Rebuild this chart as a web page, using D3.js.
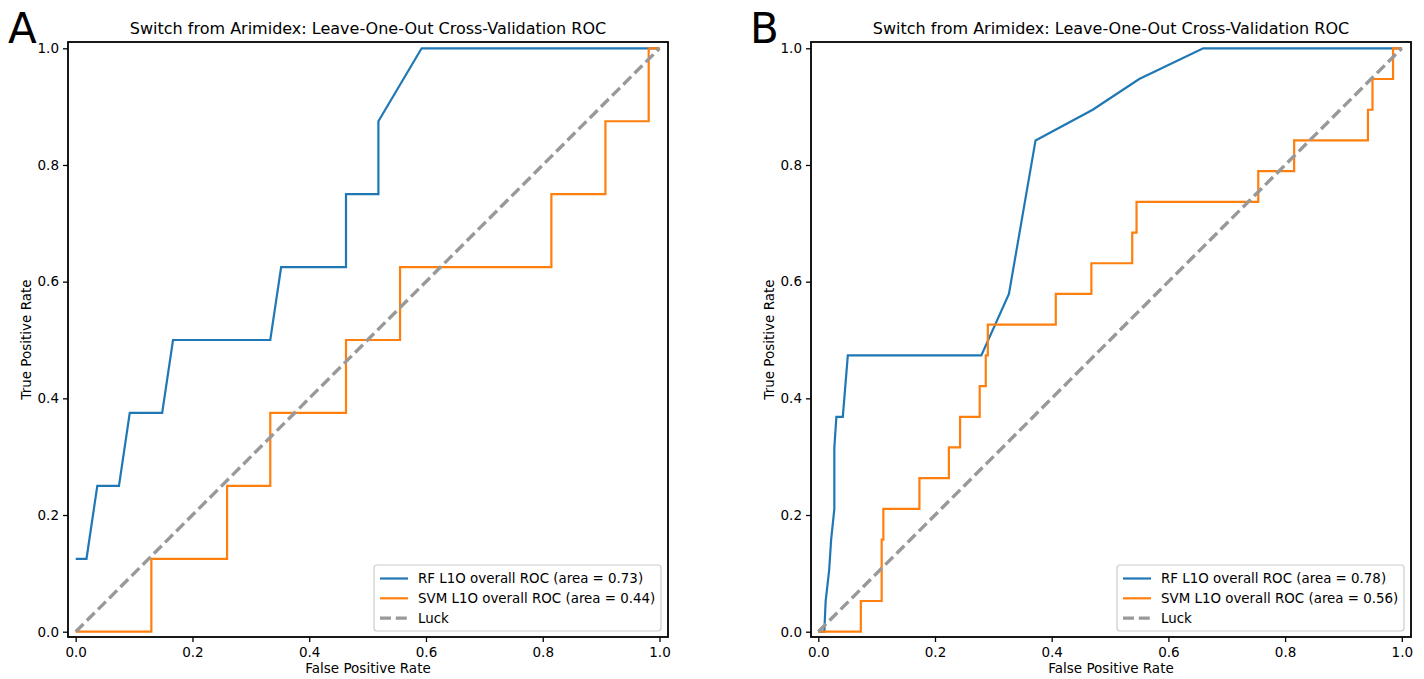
<!DOCTYPE html>
<html>
<head>
<meta charset="utf-8">
<script src="https://cdn.jsdelivr.net/npm/d3@7"></script>
<style>
  html, body { margin: 0; padding: 0; background: #fff; }
  svg { display: block; }
  text { font-family: "DejaVu Sans", sans-serif; fill: #000; }
</style>
</head>
<body>
<svg id="chart" width="1424" height="679"></svg>
<script>
// ---------- DATA ----------
const panelLetters = ["A", "B"];
const chartTitle = "Switch from Arimidex: Leave-One-Out Cross-Validation ROC";
const xLabel = "False Positive Rate";
const yLabel = "True Positive Rate";
const tickValues = [0, 0.2, 0.4, 0.6, 0.8, 1.0];
const tickLabels = ["0.0", "0.2", "0.4", "0.6", "0.8", "1.0"];

// Panel A
const rfA_fpr  = [0, 0.0185, 0.037, 0.0741, 0.0926, 0.1481, 0.1667, 0.3333, 0.3519, 0.463, 0.463, 0.5185, 0.5185, 0.5926, 1.0];
const rfA_tpr  = [0.125, 0.125, 0.25, 0.25, 0.375, 0.375, 0.5, 0.5, 0.625, 0.625, 0.75, 0.75, 0.875, 1.0, 1.0];
const svmA_fpr = [0, 0.1296, 0.1296, 0.2593, 0.2593, 0.3333, 0.3333, 0.463, 0.463, 0.5556, 0.5556, 0.8148, 0.8148, 0.9074, 0.9074, 0.9815, 0.9815, 1.0];
const svmA_tpr = [0, 0, 0.125, 0.125, 0.25, 0.25, 0.375, 0.375, 0.5, 0.5, 0.625, 0.625, 0.75, 0.75, 0.875, 0.875, 1.0, 1.0];
const legendA = ["RF L1O overall ROC (area = 0.73)", "SVM L1O overall ROC (area = 0.44)", "Luck"];

// Panel B
const rfB_fpr  = [0, 0.0103, 0.0126, 0.0186, 0.022, 0.0275, 0.0275, 0.031, 0.042, 0.0506, 0.2794, 0.3267, 0.3723, 0.4703, 0.55, 0.6597, 1.0];
const rfB_tpr  = [0, 0, 0.0526, 0.1053, 0.1579, 0.2105, 0.3158, 0.3684, 0.3684, 0.4737, 0.4737, 0.5789, 0.8421, 0.8947, 0.9474, 1.0, 1.0];
const svmB_fpr = [0, 0.0729, 0.0729, 0.1086, 0.1086, 0.1115, 0.1115, 0.1733, 0.1733, 0.2238, 0.2238, 0.243, 0.243, 0.2766, 0.2766, 0.287, 0.287, 0.2905, 0.2905, 0.407, 0.407, 0.468, 0.468, 0.538, 0.538, 0.5454, 0.5454, 0.754, 0.754, 0.8155, 0.8155, 0.942, 0.942, 0.9498, 0.9498, 0.985, 0.985, 1.0];
const svmB_tpr = [0, 0, 0.0526, 0.0526, 0.1579, 0.1579, 0.2105, 0.2105, 0.2632, 0.2632, 0.3158, 0.3158, 0.3684, 0.3684, 0.4211, 0.4211, 0.4737, 0.4737, 0.5263, 0.5263, 0.5789, 0.5789, 0.6316, 0.6316, 0.6842, 0.6842, 0.7368, 0.7368, 0.7895, 0.7895, 0.8421, 0.8421, 0.8947, 0.8947, 0.9474, 0.9474, 1.0, 1.0];
const legendB = ["RF L1O overall ROC (area = 0.78)", "SVM L1O overall ROC (area = 0.56)", "Luck"];

const luck_fpr = [0, 1];
const luck_tpr = [0, 1];

// ---------- STYLE / LAYOUT ----------
const COLORS = { rf: "#1f77b4", svm: "#ff7f0e", luck: "#999999" };
const FS = { title: 16, tick: 13.5, label: 13.5, legend: 13.4, letter: 42 };

const panels = [
  { letter: panelLetters[0], frame: { x0: 68, x1: 668, y0: 42, y1: 637 }, x01: [75.7, 659.5], y01: [631.7, 48.3],
    rf: [rfA_fpr, rfA_tpr], svm: [svmA_fpr, svmA_tpr], legend: legendA, letterX: 8 },
  { letter: panelLetters[1], frame: { x0: 811, x1: 1411, y0: 42, y1: 637 }, x01: [818.3, 1401.8], y01: [631.7, 48.3],
    rf: [rfB_fpr, rfB_tpr], svm: [svmB_fpr, svmB_tpr], legend: legendB, letterX: 750 }
];

const svg = d3.select("#chart");

panels.forEach(p => {
  const g = svg.append("g");
  const x = d3.scaleLinear().domain([0, 1]).range(p.x01);
  const y = d3.scaleLinear().domain([0, 1]).range(p.y01);
  const f = p.frame;

  const clipId = "clip" + p.letter;
  svg.append("clipPath").attr("id", clipId).append("rect")
    .attr("x", f.x0).attr("y", f.y0).attr("width", f.x1 - f.x0).attr("height", f.y1 - f.y0);

  const line = d3.line().x(d => x(d[0])).y(d => y(d[1]));
  const zipPts = (a, b) => a.map((v, i) => [v, b[i]]);

  const plot = g.append("g").attr("clip-path", `url(#${clipId})`);
  plot.append("path").datum(zipPts(p.rf[0], p.rf[1]))
    .attr("d", line).attr("fill", "none").attr("stroke", COLORS.rf).attr("stroke-width", 2.2);
  plot.append("path").datum(zipPts(p.svm[0], p.svm[1]))
    .attr("d", line).attr("fill", "none").attr("stroke", COLORS.svm).attr("stroke-width", 2.2);
  plot.append("path").datum(zipPts(luck_fpr, luck_tpr))
    .attr("d", line).attr("fill", "none").attr("stroke", COLORS.luck).attr("stroke-width", 3.4)
    .attr("stroke-dasharray", "11,4.8");

  const xAxis = d3.axisBottom(x).tickValues(tickValues).tickFormat((d, i) => tickLabels[i]).tickSize(5).tickSizeOuter(0).tickPadding(5);
  const yAxis = d3.axisLeft(y).tickValues(tickValues).tickFormat((d, i) => tickLabels[i]).tickSize(5).tickSizeOuter(0).tickPadding(4);
  const gx = g.append("g").attr("transform", `translate(0,${f.y1})`).call(xAxis);
  const gy = g.append("g").attr("transform", `translate(${f.x0},0)`).call(yAxis);
  [gx, gy].forEach(a => {
    a.select(".domain").remove();
    a.selectAll(".tick line").attr("stroke", "#000").attr("stroke-width", 1.3);
    a.selectAll(".tick text").attr("font-family", "DejaVu Sans").attr("font-size", FS.tick).attr("fill", "#000");
  });

  g.append("rect").attr("x", f.x0).attr("y", f.y0).attr("width", f.x1 - f.x0).attr("height", f.y1 - f.y0)
    .attr("fill", "none").attr("stroke", "#000").attr("stroke-width", 1.8);

  const cx = (f.x0 + f.x1) / 2;
  g.append("text").attr("x", cx).attr("y", 34).attr("text-anchor", "middle").attr("font-size", FS.title).text(chartTitle);
  g.append("text").attr("x", cx).attr("y", 673).attr("text-anchor", "middle").attr("font-size", FS.label).text(xLabel);
  g.append("text").attr("transform", `translate(${f.x0 - 37},${(f.y0 + f.y1) / 2}) rotate(-90)`)
    .attr("text-anchor", "middle").attr("font-size", FS.label).text(yLabel);

  g.append("text").attr("x", p.letterX).attr("y", 43).attr("font-family", "Liberation Sans, Arial, sans-serif")
    .attr("font-size", FS.letter).text(p.letter);

  const lw = 287, lh = 66;
  const lx = f.x1 - 7 - lw, ly = f.y1 - 6 - lh;
  const lg = g.append("g");
  lg.append("rect").attr("x", lx).attr("y", ly).attr("width", lw).attr("height", lh).attr("rx", 3)
    .attr("fill", "#fff").attr("fill-opacity", 0.8).attr("stroke", "#cccccc").attr("stroke-width", 1.2);
  const styles = [
    { c: COLORS.rf, w: 2.2, dash: null },
    { c: COLORS.svm, w: 2.2, dash: null },
    { c: COLORS.luck, w: 3.4, dash: "11,4.8" }
  ];
  p.legend.forEach((t, i) => {
    const yy = ly + 13.5 + i * 19.8;
    lg.append("line").attr("x1", lx + 6).attr("x2", lx + 34).attr("y1", yy).attr("y2", yy)
      .attr("stroke", styles[i].c).attr("stroke-width", styles[i].w).attr("stroke-dasharray", styles[i].dash);
    lg.append("text").attr("x", lx + 44).attr("y", yy).attr("dy", "0.36em").attr("font-size", FS.legend).text(t);
  });
});
</script>
</body>
</html>
